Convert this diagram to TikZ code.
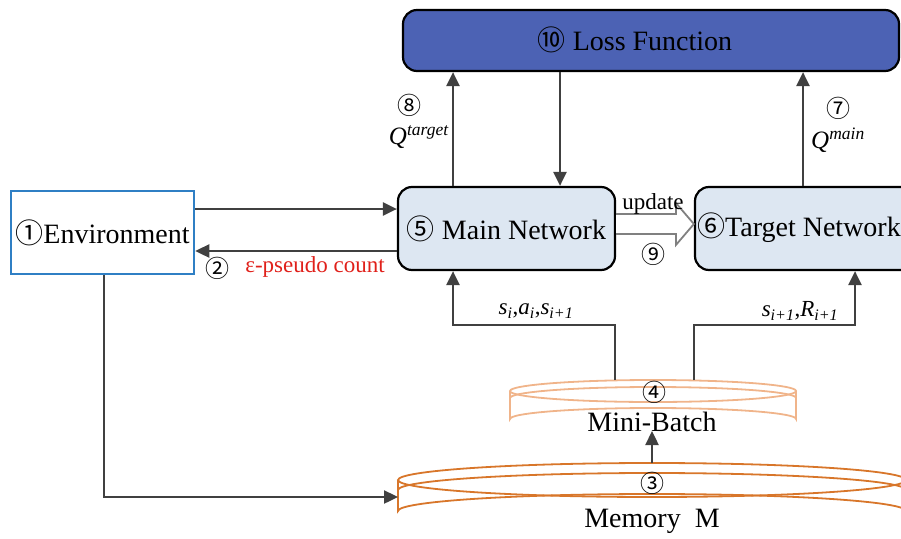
\documentclass[tikz,border=0pt]{standalone}
\usepackage{fontspec}
\setmainfont{Liberation Serif}
\newfontfamily\circfont{Noto Sans CJK SC}
\usetikzlibrary{arrows.meta,calc}
\newcommand{\cn}[1]{{\circfont #1}}
\definecolor{lossfill}{HTML}{4C62B4}
\definecolor{netfill}{HTML}{DDE7F2}
\definecolor{envblue}{HTML}{2F7FC4}
\definecolor{arrgray}{HTML}{404040}
\definecolor{minic}{HTML}{F0B48A}
\definecolor{memc}{HTML}{D8762A}
\definecolor{redtxt}{HTML}{E0201A}
\begin{document}
\begin{tikzpicture}[x=1pt,y=-1pt,
  arr/.style={draw=arrgray, line width=2.4pt, -{Triangle[length=14pt,width=13pt]}},
  big/.style={font=\fontsize{28}{32}\selectfont},
  mid/.style={font=\fontsize{25}{28}\selectfont},
  small/.style={font=\fontsize{23}{26}\selectfont},
  circ/.style={font=\fontsize{24}{26}\selectfont\circfont, inner sep=0pt},
  netbox/.style={draw=black, line width=2.2pt, rounded corners=14pt, fill=netfill, inner sep=0pt},
  cyl/.style={line width=1.8pt},
]
\useasboundingbox (0,0) rectangle (901,538);

% boxes
\node[netbox, fill=lossfill, minimum width=496pt, minimum height=61pt] (loss) at (651,40.5) {};
\node[big] (losst) at (635,40) {\cn{⑩} Loss Function};
\node[netbox, minimum width=217pt, minimum height=83pt, big] (main) at (506.5,228.5) {\cn{⑤} Main Network};
\node[netbox, minimum width=220pt, minimum height=83pt] (target) at (805,228.5) {};
\node[big, anchor=west, inner sep=0pt] (targett) at (697,228) {\cn{⑥}Target Network};
\node[draw=envblue, line width=2.5pt, fill=white, minimum width=183pt, minimum height=83pt, inner sep=0pt, big] (env) at (102.5,232.5) {\cn{①}Environment};

% cylinders
\draw[cyl, draw=memc] (652,480) ellipse [x radius=254, y radius=17];
\draw[cyl, draw=memc] (398,480) -- (398,511) arc[start angle=180, end angle=360, x radius=254, y radius=17] -- (906,480);
\draw[cyl, draw=memc] (398,490) arc[start angle=180, end angle=360, x radius=254, y radius=17];
\draw[cyl, draw=minic] (653,391) ellipse [x radius=143, y radius=11];
\draw[cyl, draw=minic] (510,391) -- (510,419) arc[start angle=180, end angle=360, x radius=143, y radius=11] -- (796,391);
\draw[cyl, draw=minic] (510,398) arc[start angle=180, end angle=360, x radius=143, y radius=11];
\node[circ] (n3) at (652,483) {③};
\node[font=\fontsize{28}{32}\selectfont] (mem) at (652,521) {Memory\enspace M};
\node[circ] (n4) at (654,392) {④};
\node[font=\fontsize{28}{32}\selectfont] (mini) at (652,422) {Mini-Batch};

% coordinates
\coordinate (x8) at (453,0);
\coordinate (xl) at (560,0);
\coordinate (x7) at (803,0);
\coordinate (xs) at (855,0);
\coordinate (yin) at (0,209);
\coordinate (yout) at (0,251);
\coordinate (mb1) at (615,380);
\coordinate (mb2) at (694,380);
\coordinate (hl) at (0,325);
\coordinate (envx) at (104,0);
\coordinate (memin) at (398,497);
\coordinate (memtop) at (652,463);
\coordinate (minibot) at (652,431);

% connectors
\draw[arr] (main.north -| x8) -- (loss.south -| x8);
\draw[arr] (loss.south -| xl) -- (main.north -| xl);
\draw[arr] (target.north -| x7) -- (loss.south -| x7);
\draw[arr] (env.east |- yin) -- (main.west |- yin);
\draw[arr] (main.west |- yout) -- (env.east |- yout);
\draw[arr] (mb1) |- (hl -| x8) -- (main.south -| x8);
\draw[arr] (mb2) |- (hl -| xs) -- (target.south -| xs);
\draw[arr] (env.south -| envx) |- (memin);
\draw[arr] (memtop) -- (minibot);

% hollow update arrow
\coordinate (ua) at ($(main.east)+(0,-4.5)$);
\coordinate (ut) at ($(target.west)+(0,-4.5)$);
\draw[draw=gray, fill=white, line width=1.8pt, line join=miter]
  ($(ua)+(0,-10)$) -- ($(ut)+(-18,-10)$) -- ($(ut)+(-18,-21)$) -- (ut)
  -- ($(ut)+(-18,21)$) -- ($(ut)+(-18,10)$) -- ($(ua)+(0,10)$);

% labels
\node[small] (upd) at (653,204) {update};
\node[circ] (n9) at (653,254) {⑨};
\node[circ] (n2) at (217,268) {②};
\node[small, text=redtxt] (eps) at (315,267) {ε-pseudo count};
\node[circ] (n8) at (409,105) {⑧};
\node[mid] (qt) at (419,137) {\textit{Q}\textsuperscript{\textit{target}}};
\node[circ] (n7) at (838,108) {⑦};
\node[mid] (qm) at (838,140) {\textit{Q}\textsuperscript{\textit{main}}};
\node[small] (sa) at (536,311) {\textit{s}\textsubscript{\textit{i}},\textit{a}\textsubscript{\textit{i}},\textit{s}\textsubscript{\textit{i+1}}};
\node[small] (sr) at (800,311) {\textit{s}\textsubscript{\textit{i+1}},\textit{R}\textsubscript{\textit{i+1}}};
\end{tikzpicture}
\end{document}
